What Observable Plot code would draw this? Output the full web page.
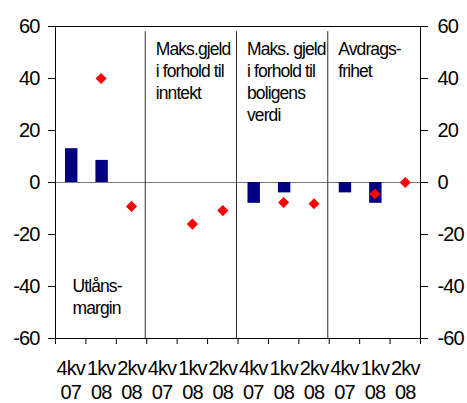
<!DOCTYPE html>
<html><head><meta charset="utf-8">
<script src="https://cdn.jsdelivr.net/npm/d3@7"></script>
<script src="https://cdn.jsdelivr.net/npm/@observablehq/plot@0.6"></script>
<style>body{margin:0;background:#fff} svg{overflow:visible} #chart svg text{letter-spacing:-0.9px}</style>
</head><body><div id="chart"></div>
<script>
const groups = ["Utlånsmargin", "Maks.gjeld i forhold til inntekt", "Maks. gjeld i forhold til boligens verdi", "Avdragsfrihet"];
const groupLabels = ["Utlåns-\nmargin", "Maks.gjeld\ni forhold til\ninntekt", "Maks. gjeld\ni forhold til\nboligens\nverdi", "Avdrags-\nfrihet"];
const periods = ["4kv\n07", "1kv\n08", "2kv\n08"];
const barValues = [[13, 8.5, null], [null, null, null], [-8, -4, null], [-4, -8, null]];
const diamondValues = [[null, 40, -9.2], [null, -16, -10.8], [null, -7.7, -8.2], [null, -4.4, 0]];
const yTicks = [-60, -40, -20, 0, 20, 40, 60];

const rows = [];
groups.forEach((g, gi) => periods.forEach((p, pi) => {
  rows.push({group: g, period: p, i: gi * 3 + pi, bar: barValues[gi][pi], dia: diamondValues[gi][pi]});
}));
const bars = rows.filter(d => d.bar != null);
const dias = rows.filter(d => d.dia != null);
const labels = groups.map((g, gi) => ({group: g, text: groupLabels[gi], start: gi * 3}));
const dividers = groups.slice(1).map((g, gi) => (gi + 1) * 3);
const boundaries = d3.range(rows.length + 1);
const fmt = d => String(d);

const font = "'Liberation Sans', Arial, sans-serif";
const chart = Plot.plot({
  width: 467, height: 403,
  marginLeft: 55, marginRight: 47, marginTop: 26, marginBottom: 65,
  style: {fontFamily: font, background: "#fff", color: "#000", overflow: "visible"},
  x: {domain: [0, rows.length]},
  y: {domain: [-60, 60]},
  marks: [
    Plot.ruleY([0], {stroke: "#777", strokeWidth: 1}),
    Plot.ruleX(dividers, {y1: -60, y2: 58, stroke: "#333", dx: -1.5}),
    Plot.rectY(bars, {x1: "i", x2: d => d.i + 1, y1: 0, y2: "bar", fill: "#000080", insetLeft: 10, insetRight: 8}),
    Plot.dot(dias, {x: d => d.i + 0.5, y: "dia", symbol: "diamond2", r: 5, fill: "#ff0000", stroke: null}),
    Plot.frame({stroke: "#000"}),
    Plot.axisY({ticks: yTicks, anchor: "left", tickSize: 7, tickPadding: 9, fontSize: 20, tickFormat: fmt, label: null}),
    Plot.axisY({ticks: yTicks, anchor: "right", tickSize: 7, tickPadding: 10, fontSize: 20, tickFormat: fmt, label: null}),
    Plot.axisX({ticks: boundaries, tickSize: 6, tickFormat: () => "", label: null}),
    Plot.text(rows, {x: d => d.i + 0.5, text: "period", frameAnchor: "bottom", lineAnchor: "top", dy: 19, fontSize: 20, lineHeight: 1.2, fill: "#000"}),
    Plot.text(labels.filter((d, k) => k > 0), {x: "start", text: "text", frameAnchor: "top", lineAnchor: "top", textAnchor: "start", dx: 9, dy: 13, fontSize: 17.5, lineHeight: 1.25, fill: "#000"}),
    Plot.text(labels.filter((d, k) => k === 0), {x: "start", text: "text", frameAnchor: "bottom", lineAnchor: "top", textAnchor: "start", dx: 17, dy: -62, fontSize: 17.5, lineHeight: 1.25, fill: "#000"})
  ]
});
document.getElementById("chart").append(chart);
</script>
</body></html>
